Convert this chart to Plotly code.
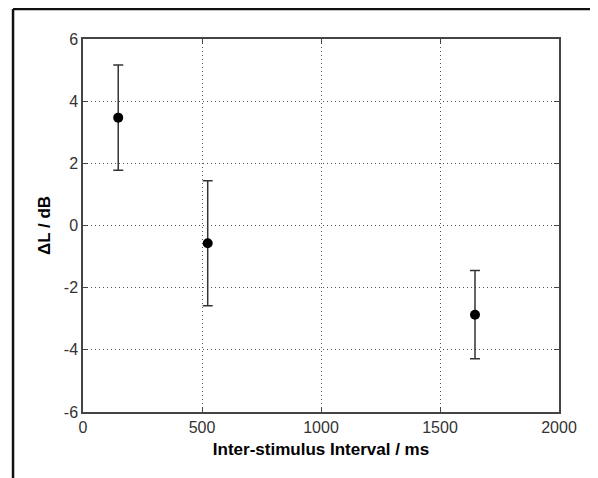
import plotly.graph_objects as go

isi_ms = [148, 524, 1647]
delta_l_db = [3.47, -0.57, -2.87]
err_db = [1.69, 2.01, 1.42]
x_ticks = [0, 500, 1000, 1500, 2000]
y_ticks = [-6, -4, -2, 0, 2, 4, 6]
y_tick_labels = ["-6", "-4", "-2", "0", "2", "4", "6"]

fig = go.Figure()
fig.add_trace(go.Scatter(
    x=isi_ms, y=delta_l_db, mode="markers",
    marker=dict(color="black", size=10),
    error_y=dict(type="data", array=err_db, visible=True, color="#333333",
                 thickness=1.5, width=5),
    showlegend=False,
))

axis_common = dict(
    showline=True, linecolor="#444444", linewidth=1.5, mirror="allticks",
    ticks="inside", ticklen=5, tickcolor="#444444", tickwidth=1.2,
    showgrid=True, gridcolor="#555555", griddash="1px,3px", gridwidth=1.2,
    zeroline=False,
    tickfont=dict(family="Liberation Sans, Arial", size=16, color="#333333"),
)

fig.update_layout(
    width=590, height=470,
    margin=dict(l=75, r=39, t=31, b=66),
    paper_bgcolor="white", plot_bgcolor="white",
    xaxis=dict(range=[0, 2000], tickvals=x_ticks, **axis_common,
               title=dict(text="<b>Inter-stimulus Interval / ms</b>", standoff=8,
                          font=dict(family="Liberation Sans, Arial", size=17, color="black"))),
    yaxis=dict(range=[-6, 6], tickvals=y_ticks, ticktext=y_tick_labels, **axis_common,
               title=dict(text="<b>ΔL / dB</b>", standoff=9,
                          font=dict(family="Liberation Sans, Arial", size=17, color="black"))),
    shapes=[
        dict(type="line", xref="paper", yref="paper", x0=-0.147, x1=1.1, y0=1.0804, y1=1.0804,
             line=dict(color="#111111", width=2.5)),
        dict(type="line", xref="paper", yref="paper", x0=-0.147, x1=-0.147, y0=1.0804, y1=-0.2,
             line=dict(color="#111111", width=2.5)),
    ],
)

fig.write_html("out.html")
